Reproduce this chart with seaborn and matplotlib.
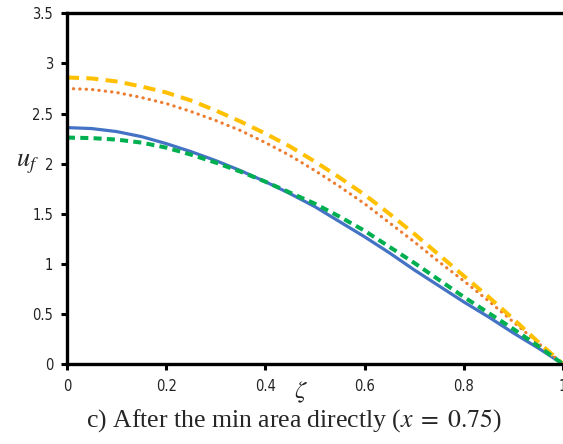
import matplotlib
matplotlib.use("Agg")
import matplotlib.pyplot as plt
import seaborn as sns
import pandas as pd

zeta = [0.0, 0.05, 0.1, 0.15, 0.2, 0.25, 0.3, 0.35, 0.4, 0.45, 0.5,
        0.55, 0.6, 0.65, 0.7, 0.75, 0.8, 0.85, 0.9, 0.95, 1.0]
u_blue = [2.36, 2.35, 2.32, 2.27, 2.20, 2.12, 2.03, 1.93, 1.82, 1.70, 1.57,
          1.42, 1.27, 1.11, 0.94, 0.78, 0.62, 0.47, 0.31, 0.16, 0.0]
u_green = [2.26, 2.255, 2.24, 2.21, 2.16, 2.09, 2.01, 1.92, 1.82, 1.71, 1.60,
           1.47, 1.33, 1.17, 1.01, 0.84, 0.67, 0.51, 0.35, 0.18, 0.0]
u_orange = [2.75, 2.74, 2.71, 2.66, 2.60, 2.52, 2.43, 2.33, 2.21, 2.08, 1.93,
            1.77, 1.60, 1.41, 1.22, 1.02, 0.83, 0.63, 0.42, 0.21, 0.0]
u_yellow = [2.86, 2.85, 2.82, 2.77, 2.71, 2.63, 2.53, 2.42, 2.30, 2.17, 2.02,
            1.86, 1.69, 1.50, 1.30, 1.09, 0.88, 0.67, 0.45, 0.22, 0.0]

x_ticks = [0, 0.2, 0.4, 0.6, 0.8, 1]
x_tick_labels = ["0", "0.2", "0.4", "0.6", "0.8", "1"]
y_ticks = [0, 0.5, 1, 1.5, 2, 2.5, 3, 3.5]
y_tick_labels = ["0", "0.5", "1", "1.5", "2", "2.5", "3", "3.5"]

sns.set_style("white")
plt.rcParams["font.family"] = ["Liberation Sans Narrow", "DejaVu Sans"]
plt.rcParams["font.stretch"] = "condensed"
plt.rcParams["mathtext.fontset"] = "stix"

fig = plt.figure(figsize=(5.63, 4.44), dpi=100)
ax = fig.add_axes([0.119, 0.180, 0.881, 0.790])

df = pd.DataFrame({"zeta": zeta, "blue": u_blue, "green": u_green,
                   "orange": u_orange, "yellow": u_yellow})

sns.lineplot(data=df, x="zeta", y="blue", ax=ax, color="#4472C4", linewidth=2.3)
sns.lineplot(data=df, x="zeta", y="orange", ax=ax, color="#ED7D31", linewidth=2.3)
ax.lines[-1].set_dashes((0.1, 1.9))
ax.lines[-1].set_dash_capstyle("round")
sns.lineplot(data=df, x="zeta", y="yellow", ax=ax, color="#FFC000", linewidth=2.9)
ax.lines[-1].set_dashes((3.0, 1.8))
sns.lineplot(data=df, x="zeta", y="green", ax=ax, color="#00B050", linewidth=2.9)
ax.lines[-1].set_dashes((2.0, 1.3))

ax.set_xlim(0, 1)
ax.set_ylim(0, 3.5)
ax.set_xticks(x_ticks)
ax.set_xticklabels(x_tick_labels)
ax.set_yticks(y_ticks)
ax.set_yticklabels(y_tick_labels)
ax.set_xlabel("")
ax.set_ylabel("")

for side in ["left", "bottom", "top"]:
    ax.spines[side].set_visible(True)
    ax.spines[side].set_color("black")
    ax.spines[side].set_linewidth(2.4)
ax.spines["right"].set_visible(False)

ax.tick_params(axis="both", which="both", direction="out", length=4, width=2.2,
               color="black", labelsize=10.5, labelcolor="#222222")
ax.tick_params(axis="x", bottom=True, pad=7)
ax.tick_params(axis="y", left=True, pad=6)

ax.text(-0.079, 0.573, r"$u_f$", transform=ax.transAxes,
        ha="center", va="center", fontsize=19)
ax.text(0.471, -0.08, r"$\zeta$", transform=ax.transAxes,
        ha="center", va="center", fontsize=18)

fig.text(0.522, 0.052, r"c) After the min area directly ($x\;=\;0.75$)",
         ha="center", va="center", fontsize=18.5, family="Liberation Serif",
         stretch="normal")

fig.savefig("out.png", dpi=100)
